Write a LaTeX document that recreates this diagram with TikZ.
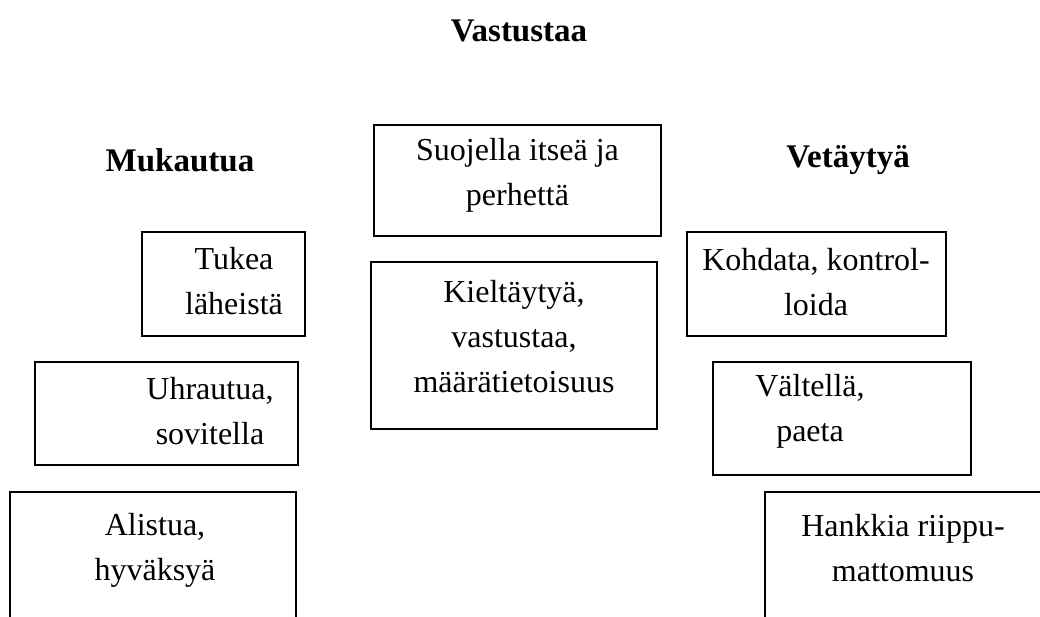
\documentclass[tikz,border=0pt]{standalone}
\usepackage{fontspec}
\setmainfont{Liberation Serif}
\begin{document}
\begin{tikzpicture}[x=1pt,y=-1pt,
  box/.style={draw,line width=1.3pt,inner sep=0pt},
  txt/.style={align=center,font=\fontsize{32}{45}\selectfont,inner sep=0pt},
  head/.style={font=\fontsize{33}{45}\selectfont\bfseries,inner sep=0pt}]
\useasboundingbox (0,0) rectangle (1040,617);
% headings
\node[head] (h1) at (519,31) {Vastustaa};
\node[head] (h2) at (180,160) {Mukautua};
\node[head] (h3) at (848,160) {Vetäytyä};
% boxes
\node[box,minimum width=287pt,minimum height=111pt] (suo) at (517.5,180.5) {};
\node[txt] (suoT) at (517.5,175) {Suojella itseä ja\\perhettä};
\node[box,minimum width=163pt,minimum height=104pt] (tuk) at (223.5,284) {};
\node[txt] (tukT) at (234,281) {Tukea\\läheistä};
\node[box,minimum width=286pt,minimum height=167pt] (kie) at (514,345.5) {};
\node[txt] (kieT) at (514,337) {Kieltäytyä,\\vastustaa,\\määrätietoisuus};
\node[box,minimum width=259pt,minimum height=104pt] (koh) at (816.5,284) {};
\node[txt] (kohT) at (816,282) {Kohdata, kontrol-\\loida};
\node[box,minimum width=263pt,minimum height=103pt] (uhr) at (166.5,413.5) {};
\node[txt] (uhrT) at (210,411) {Uhrautua,\\sovitella};
\node[box,minimum width=258pt,minimum height=113pt] (val) at (842,418.5) {};
\node[txt] (valT) at (810,411) {Vältellä,\\paeta};
% open-bottom boxes
\coordinate (a1) at (10,630);
\coordinate (a2) at (10,492);
\coordinate (a3) at (296,492);
\coordinate (a4) at (296,630);
\draw[line width=1.3pt] (a1) -- (a2) -- (a3) -- (a4);
\node[txt] (aliT) at (155,550) {Alistua,\\hyväksyä};
\coordinate (b1) at (765,630);
\coordinate (b2) at (765,492);
\coordinate (b3) at (1050,492);
\draw[line width=1.3pt] (b1) -- (b2) -- (b3);
\node[txt] (hanT) at (903,548) {Hankkia riippu-\\mattomuus};
\end{tikzpicture}
\end{document}
